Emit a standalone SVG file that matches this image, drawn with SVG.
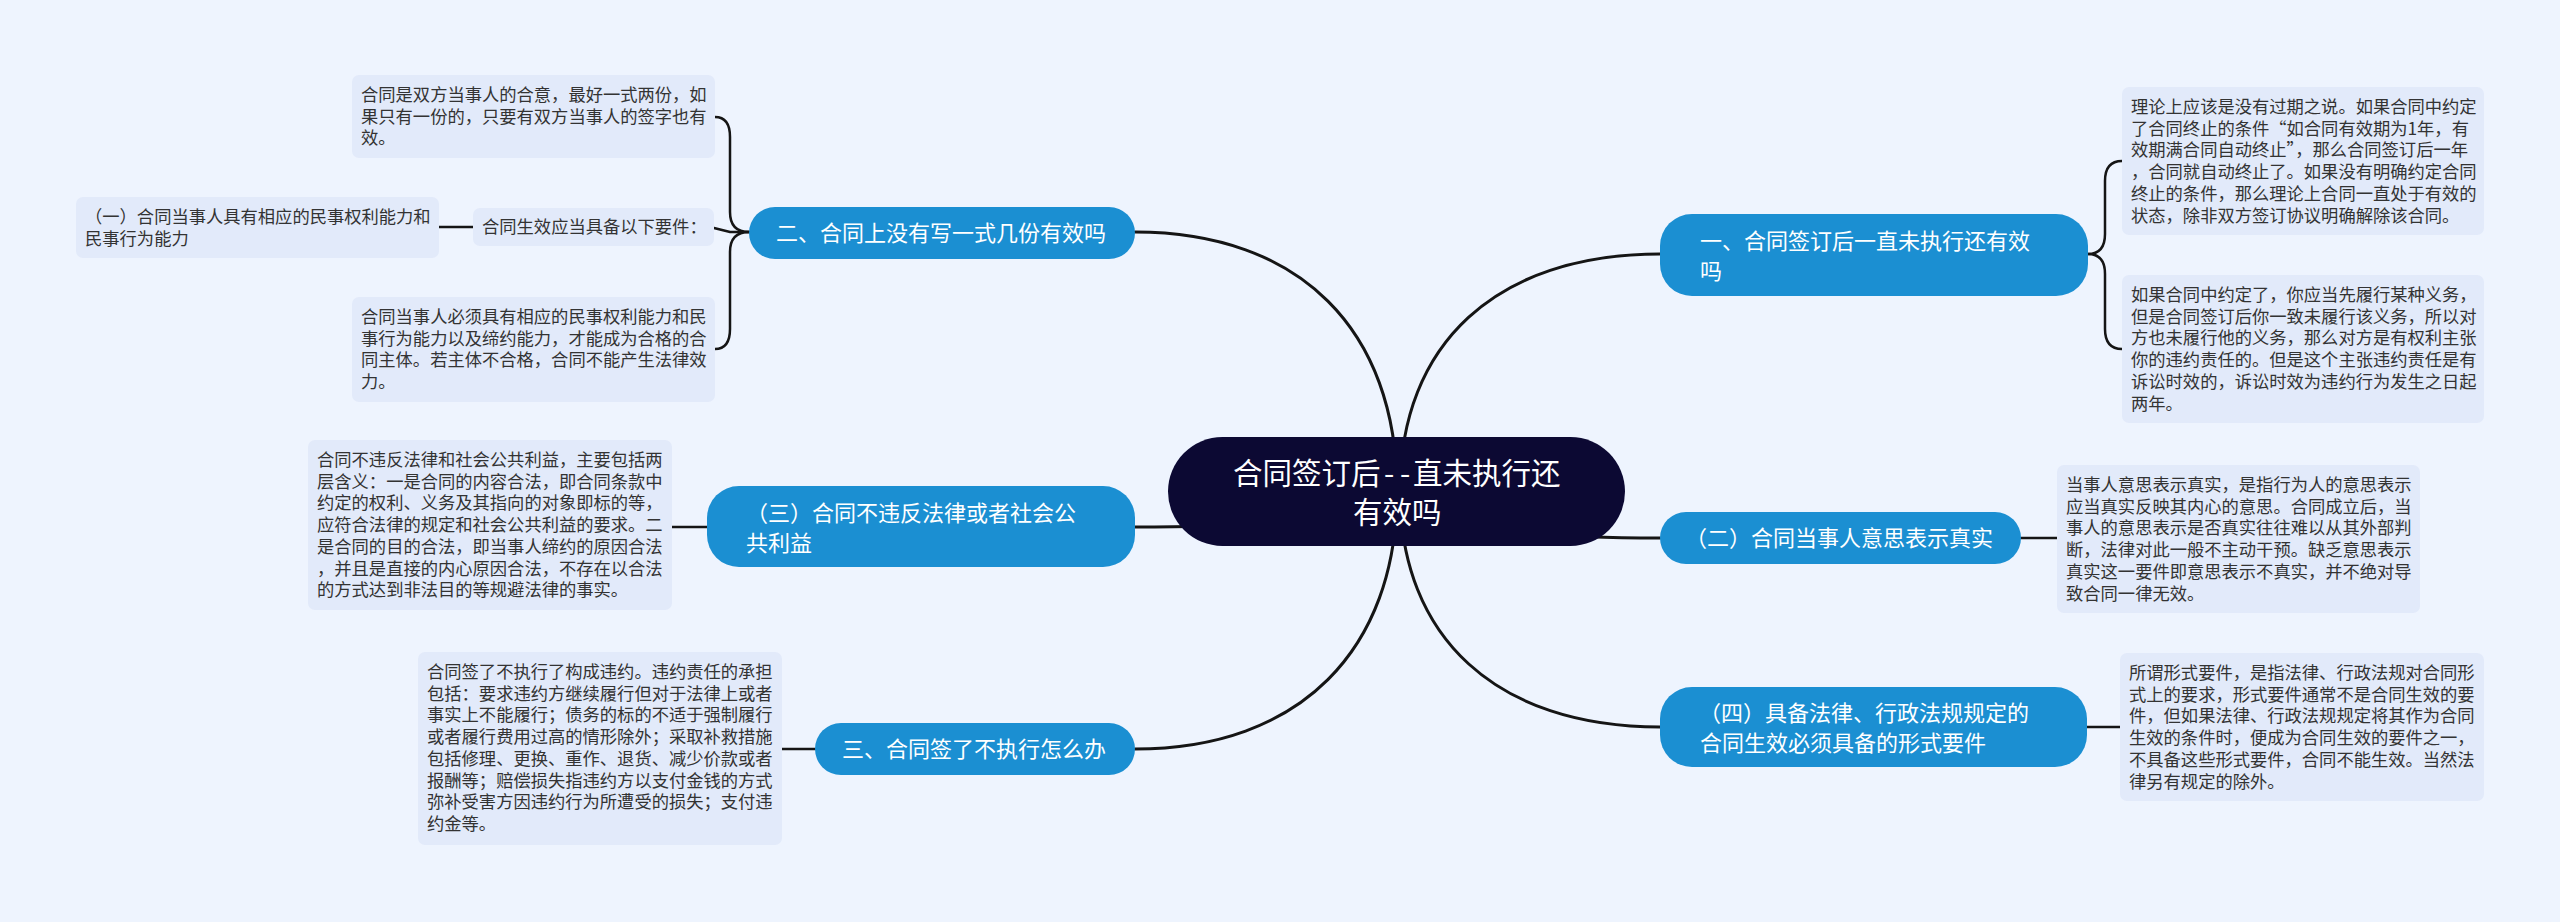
<svg xmlns="http://www.w3.org/2000/svg" width="2560" height="922" viewBox="0 0 2560 922">
<style>
.bg{fill:#eef4fe}
.leaf{fill:#e2eafa}
.lt{font-family:"Noto Sans CJK SC","Noto Sans",sans-serif;font-size:17.3px;fill:#333333}
.br{fill:#1b8fd2}
.bt{font-family:"Noto Sans CJK SC","Noto Sans",sans-serif;font-size:22px;fill:#ffffff}
.ct{font-family:"Noto Sans CJK SC","Noto Sans",sans-serif;font-size:29.5px;fill:#ffffff}
.cn{fill:none;stroke:#151515;stroke-width:3;stroke-linecap:round}
.cs{fill:none;stroke:#151515;stroke-width:2.5;stroke-linecap:round}
</style>
<rect class="bg" x="0" y="0" width="2560" height="922"/>
<g id="connectors">
<path class="cn" d="M1397 491 C1397 330 1300 232 1135 232"/>
<path class="cn" d="M1400 491 C1400 344 1496 254 1660 254"/>
<path class="cn" d="M1397 491 C1397 513 1300 527 1135 527"/>
<path class="cn" d="M1400 491 C1400 520 1496 538 1660 538"/>
<path class="cn" d="M1397 491 C1397 650 1300 749 1135 749"/>
<path class="cn" d="M1400 491 C1400 637 1496 727 1660 727"/>
<path class="cs" d="M749 232 Q730 232 730 212 L730 137 Q730 117 715 117"/>
<path class="cs" d="M749 232 Q730 232 730 252 L730 329 Q730 349 715 349"/>
<path class="cs" d="M749 232 L730 232 L714 228"/>
<path class="cs" d="M473 227 L439 227"/>
<path class="cs" d="M707 527 L672 527"/>
<path class="cs" d="M815 749 L782 749"/>
<path class="cs" d="M2088 254 Q2105 254 2105 234 L2105 181 Q2105 161 2122 161"/>
<path class="cs" d="M2088 254 Q2105 254 2105 274 L2105 329 Q2105 349 2122 349"/>
<path class="cs" d="M2021 538 L2057 538"/>
<path class="cs" d="M2087 727 L2120 727"/>
</g>
<g id="center">
<rect x="1168" y="437" width="457" height="109" rx="54.5" fill="#0c0933"/>
<text class="ct" y="484"><tspan x="1233">合同签订后</tspan><tspan x="1384">-</tspan><tspan x="1400">-</tspan><tspan x="1413">直未执行还</tspan></text>
<text class="ct" x="1353" y="523">有效吗</text>
</g>
<g id="b-er">
<rect class="br" x="749" y="207" width="386" height="52" rx="26"/>
<text class="bt" x="776" y="241">二、合同上没有写一式几份有效吗</text>
</g>
<g id="b-san-paren">
<rect class="br" x="707" y="486" width="428" height="81" rx="32"/>
<text class="bt" x="746" y="521">（三）合同不违反法律或者社会公</text>
<text class="bt" x="746" y="551">共利益</text>
</g>
<g id="b-san">
<rect class="br" x="815" y="723" width="320" height="52" rx="26"/>
<text class="bt" x="842" y="757">三、合同签了不执行怎么办</text>
</g>
<g id="b-yi">
<rect class="br" x="1660" y="214" width="428" height="82" rx="32"/>
<text class="bt" x="1700" y="249">一、合同签订后一直未执行还有效</text>
<text class="bt" x="1700" y="279">吗</text>
</g>
<g id="b-er-paren">
<rect class="br" x="1660" y="512" width="361" height="52" rx="26"/>
<text class="bt" x="1685" y="546">（二）合同当事人意思表示真实</text>
</g>
<g id="b-si-paren">
<rect class="br" x="1660" y="687" width="427" height="80" rx="32"/>
<text class="bt" x="1699" y="721">（四）具备法律、行政法规规定的</text>
<text class="bt" x="1700" y="751">合同生效必须具备的形式要件</text>
</g>
<g id="leaf-er-1">
<rect class="leaf" x="352" y="75" width="363" height="83" rx="7"/>
<text class="lt" x="361" y="101">合同是双方当事人的合意，最好一式两份，如</text>
<text class="lt" x="361" y="122.7">果只有一份的，只要有双方当事人的签字也有</text>
<text class="lt" x="361" y="144.4">效。</text>
</g>
<g id="leaf-er-2">
<rect class="leaf" x="473" y="208" width="241" height="38" rx="7"/>
<text class="lt" x="482" y="233">合同生效应当具备以下要件：</text>
</g>
<g id="leaf-er-2-1">
<rect class="leaf" x="76" y="197" width="363" height="61" rx="7"/>
<text class="lt" x="85" y="223">（一）合同当事人具有相应的民事权利能力和</text>
<text class="lt" x="85" y="244.7">民事行为能力</text>
</g>
<g id="leaf-er-3">
<rect class="leaf" x="352" y="297" width="363" height="105" rx="7"/>
<text class="lt" x="361" y="323">合同当事人必须具有相应的民事权利能力和民</text>
<text class="lt" x="361" y="344.7">事行为能力以及缔约能力，才能成为合格的合</text>
<text class="lt" x="361" y="366.4">同主体。若主体不合格，合同不能产生法律效</text>
<text class="lt" x="361" y="388.1">力。</text>
</g>
<g id="leaf-san-paren">
<rect class="leaf" x="308" y="440" width="364" height="170" rx="7"/>
<text class="lt" x="317" y="466">合同不违反法律和社会公共利益，主要包括两</text>
<text class="lt" x="317" y="487.7">层含义：一是合同的内容合法，即合同条款中</text>
<text class="lt" x="317" y="509.4">约定的权利、义务及其指向的对象即标的等，</text>
<text class="lt" x="317" y="531.1">应符合法律的规定和社会公共利益的要求。二</text>
<text class="lt" x="317" y="552.8">是合同的目的合法，即当事人缔约的原因合法</text>
<text class="lt" x="317" y="574.5">，并且是直接的内心原因合法，不存在以合法</text>
<text class="lt" x="317" y="596.2">的方式达到非法目的等规避法律的事实。</text>
</g>
<g id="leaf-san">
<rect class="leaf" x="418" y="652" width="364" height="193" rx="7"/>
<text class="lt" x="427" y="678">合同签了不执行了构成违约。违约责任的承担</text>
<text class="lt" x="427" y="699.7">包括：要求违约方继续履行但对于法律上或者</text>
<text class="lt" x="427" y="721.4">事实上不能履行；债务的标的不适于强制履行</text>
<text class="lt" x="427" y="743.1">或者履行费用过高的情形除外；采取补救措施</text>
<text class="lt" x="427" y="764.8">包括修理、更换、重作、退货、减少价款或者</text>
<text class="lt" x="427" y="786.5">报酬等；赔偿损失指违约方以支付金钱的方式</text>
<text class="lt" x="427" y="808.2">弥补受害方因违约行为所遭受的损失；支付违</text>
<text class="lt" x="427" y="829.9">约金等。</text>
</g>
<g id="leaf-yi-1">
<rect class="leaf" x="2122" y="87" width="362" height="148" rx="7"/>
<text class="lt" x="2131" y="113">理论上应该是没有过期之说。如果合同中约定</text>
<text class="lt" x="2131" y="134.7">了合同终止的条件“如合同有效期为1年，有</text>
<text class="lt" x="2131" y="156.4">效期满合同自动终止”，那么合同签订后一年</text>
<text class="lt" x="2131" y="178.1">，合同就自动终止了。如果没有明确约定合同</text>
<text class="lt" x="2131" y="199.8">终止的条件，那么理论上合同一直处于有效的</text>
<text class="lt" x="2131" y="221.5">状态，除非双方签订协议明确解除该合同。</text>
</g>
<g id="leaf-yi-2">
<rect class="leaf" x="2122" y="275" width="362" height="148" rx="7"/>
<text class="lt" x="2131" y="301">如果合同中约定了，你应当先履行某种义务，</text>
<text class="lt" x="2131" y="322.7">但是合同签订后你一致未履行该义务，所以对</text>
<text class="lt" x="2131" y="344.4">方也未履行他的义务，那么对方是有权利主张</text>
<text class="lt" x="2131" y="366.1">你的违约责任的。但是这个主张违约责任是有</text>
<text class="lt" x="2131" y="387.8">诉讼时效的，诉讼时效为违约行为发生之日起</text>
<text class="lt" x="2131" y="409.5">两年。</text>
</g>
<g id="leaf-er-paren">
<rect class="leaf" x="2057" y="465" width="363" height="148" rx="7"/>
<text class="lt" x="2066" y="491">当事人意思表示真实，是指行为人的意思表示</text>
<text class="lt" x="2066" y="512.7">应当真实反映其内心的意思。合同成立后，当</text>
<text class="lt" x="2066" y="534.4">事人的意思表示是否真实往往难以从其外部判</text>
<text class="lt" x="2066" y="556.1">断，法律对此一般不主动干预。缺乏意思表示</text>
<text class="lt" x="2066" y="577.8">真实这一要件即意思表示不真实，并不绝对导</text>
<text class="lt" x="2066" y="599.5">致合同一律无效。</text>
</g>
<g id="leaf-si-paren">
<rect class="leaf" x="2120" y="653" width="364" height="148" rx="7"/>
<text class="lt" x="2129" y="679">所谓形式要件，是指法律、行政法规对合同形</text>
<text class="lt" x="2129" y="700.7">式上的要求，形式要件通常不是合同生效的要</text>
<text class="lt" x="2129" y="722.4">件，但如果法律、行政法规规定将其作为合同</text>
<text class="lt" x="2129" y="744.1">生效的条件时，便成为合同生效的要件之一，</text>
<text class="lt" x="2129" y="765.8">不具备这些形式要件，合同不能生效。当然法</text>
<text class="lt" x="2129" y="787.5">律另有规定的除外。</text>
</g>
</svg>
